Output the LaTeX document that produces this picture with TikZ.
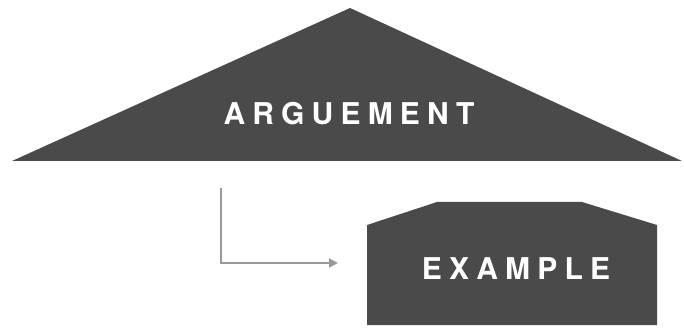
\documentclass[tikz,border=0pt]{standalone}
\usepackage{fontspec}
\setmainfont{TeX Gyre Heros}
\newfontfamily\labelfont[LetterSpace=24]{TeX Gyre Heros}
\usetikzlibrary{arrows.meta}
\definecolor{shapegray}{HTML}{4A4A4A}
\definecolor{linegray}{HTML}{9A9A9A}
\tikzset{
  x=1pt,y=-1pt,
  shapefill/.style={fill=shapegray,draw=none},
  lbl/.style={text=white,font=\labelfont\bfseries\fontsize{30}{30}\selectfont,inner sep=0pt,anchor=center},
  conn/.style={draw=linegray,line width=2pt,-{Triangle[length=9pt,width=9pt]}}
}
\begin{document}
\begin{tikzpicture}
\useasboundingbox (0,0) rectangle (684,328);
% triangle
\path[shapefill] (350,8) -- (682,161) -- (12,161) -- cycle;
\node[lbl] (arg) at (349,114) {ARGUEMENT};
% pentagon
\path[shapefill] (367,225) -- (437,202) -- (582,202) -- (657,225) -- (657,325) -- (367,325) -- cycle;
\node[lbl] (ex) at (516,269) {EXAMPLE};
% connector
\coordinate (cstart) at (221,188);
\coordinate (cend) at (338,263);
\draw[conn] (cstart) |- (cend);
\end{tikzpicture}
\end{document}
